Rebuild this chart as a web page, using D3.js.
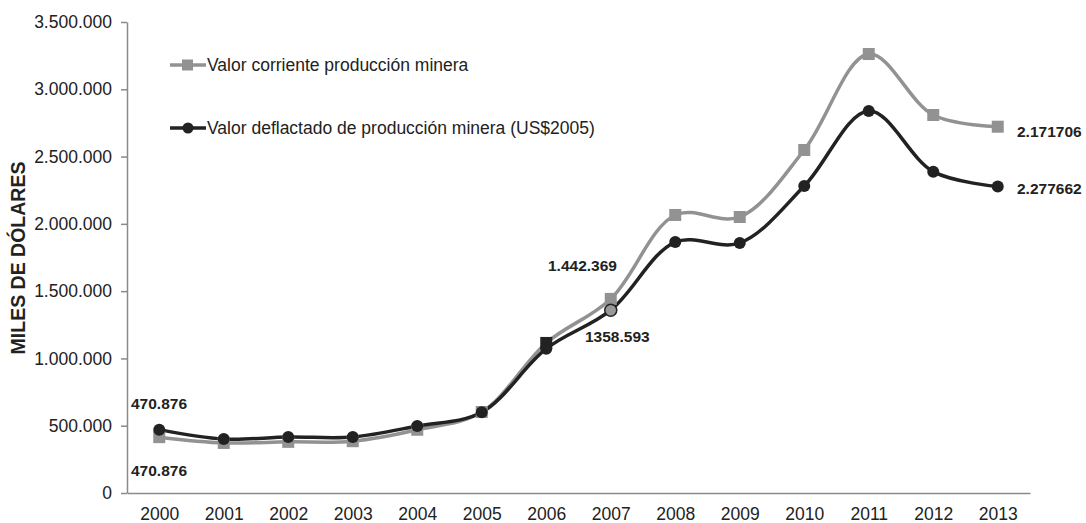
<!DOCTYPE html>
<html><head><meta charset="utf-8">
<script src="https://cdn.jsdelivr.net/npm/d3@7"></script>
<style>body{margin:0;background:#fff}svg{display:block;font-family:"Liberation Sans",Arial,sans-serif}</style>
</head><body><svg id="c" width="1086" height="523"></svg>
<script>
const years = ["2000","2001","2002","2003","2004","2005","2006","2007","2008","2009","2010","2011","2012","2013"];
const corriente = [415000,372000,380000,385000,470000,602000,1115000,1442369,2066000,2051000,2549000,3262000,2809000,2722000];
const deflactado = [470876,401000,416000,416000,498000,600000,1072000,1358593,1865000,1858000,2281000,2839000,2388000,2277662];
const yTicks = [0,500000,1000000,1500000,2000000,2500000,3000000,3500000];
const seriesNames = ["Valor corriente producción minera","Valor deflactado de producción minera (US$2005)"];
const annotations = [
  {text:"470.876", x:131, y:409},
  {text:"470.876", x:131, y:476},
  {text:"1.442.369", x:548, y:271},
  {text:"1358.593", x:585, y:342},
  {text:"2.171706", x:1017, y:137},
  {text:"2.277662", x:1017, y:194}
];

const svg = d3.select("#c");
const x0 = 127, x1 = 1030, yTop = 22, yBot = 493;
const x = d3.scalePoint().domain(years).range([x0, x1]).padding(0.5);
const y = d3.scaleLinear().domain([0,3500000]).range([yBot, yTop]);
const fmt = v => d3.format(",")(v).replace(/,/g,".");

// axes
const ya = svg.append("g").attr("transform",`translate(${x0},0)`)
  .call(d3.axisLeft(y).tickValues(yTicks).tickFormat(fmt).tickSize(6).tickSizeOuter(0));
ya.select(".domain").attr("stroke","#8a8a8a").attr("stroke-width",1.5);
ya.selectAll(".tick line").attr("stroke","#8a8a8a").attr("stroke-width",1.5);
ya.selectAll("text").attr("font-size",17.5).attr("fill","#222").attr("x",-15);

const xa = svg.append("g").attr("transform",`translate(0,${yBot})`)
  .call(d3.axisBottom(x).tickSize(0).tickSizeOuter(0));
xa.select(".domain").attr("stroke","#8a8a8a").attr("stroke-width",1.5);
xa.selectAll("text").attr("font-size",17.5).attr("fill","#222").attr("dy","1.35em");

svg.append("text").attr("transform","translate(25,258) rotate(-90)")
  .attr("text-anchor","middle").attr("font-weight","bold").attr("font-size",19.5)
  .attr("fill","#222").text("MILES DE DÓLARES");

const line = d3.line().x((d,i)=>x(years[i])).y(d=>y(d)).curve(d3.curveCatmullRom.alpha(0.5));
const gray = "#929292", dark = "#222";

svg.append("path").datum(corriente).attr("d",line).attr("fill","none").attr("stroke",gray).attr("stroke-width",3.5);
svg.append("path").datum(deflactado).attr("d",line).attr("fill","none").attr("stroke",dark).attr("stroke-width",3.5);

svg.selectAll(".sq").data(corriente).enter().append("rect")
  .attr("x",(d,i)=>x(years[i])-6).attr("y",d=>y(d)-6).attr("width",12).attr("height",12)
  .attr("fill",(d,i)=>i===6?dark:gray);
svg.selectAll(".ci").data(deflactado).enter().append("circle")
  .attr("cx",(d,i)=>x(years[i])).attr("cy",d=>y(d)).attr("r",6)
  .attr("fill",(d,i)=>i===7?"#999":dark).attr("stroke",dark).attr("stroke-width",(d,i)=>i===7?1.5:0);

// legend
const lg = [{y:65,c:gray,shape:"sq"},{y:128,c:dark,shape:"ci"}];
lg.forEach((l,i)=>{
  svg.append("line").attr("x1",170).attr("x2",206).attr("y1",l.y).attr("y2",l.y).attr("stroke",l.c).attr("stroke-width",3.5);
  if(l.shape==="sq") svg.append("rect").attr("x",182).attr("y",l.y-5.5).attr("width",11).attr("height",11).attr("fill",l.c);
  else svg.append("circle").attr("cx",188).attr("cy",l.y).attr("r",5.5).attr("fill",l.c);
  svg.append("text").attr("x",207).attr("y",l.y+6).attr("font-size",17.5).attr("fill","#222").text(seriesNames[i]);
});

svg.selectAll(".ann").data(annotations).enter().append("text")
  .attr("x",d=>d.x).attr("y",d=>d.y).attr("font-size",15.5).attr("font-weight","bold").attr("fill","#222").text(d=>d.text);
</script></body></html>
